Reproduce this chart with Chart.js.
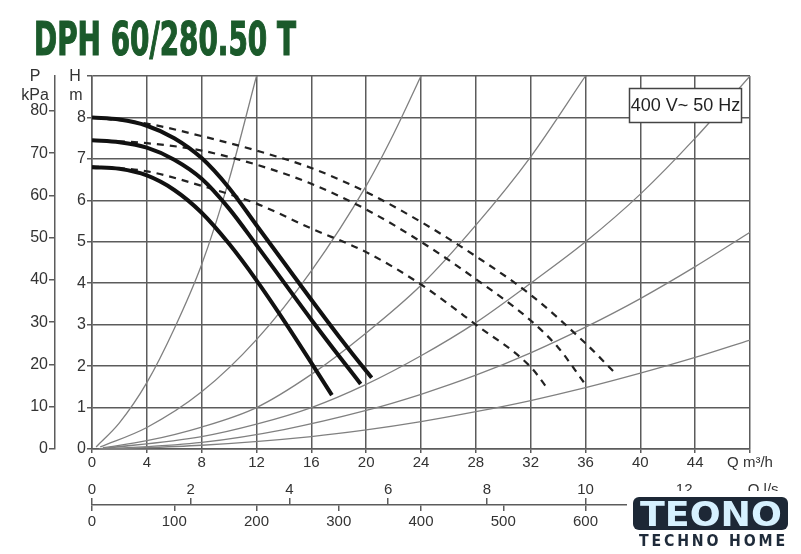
<!DOCTYPE html>
<html><head><meta charset="utf-8">
<script src="https://cdn.jsdelivr.net/npm/chart.js@4/dist/chart.umd.min.js"></script>
<style>html,body{margin:0;padding:0;background:#fff;}#wrap{position:relative;width:801px;height:554px;}canvas{display:block;}</style>
</head><body><div id="wrap"><canvas id="c" width="801" height="554"></canvas></div>
<script>
// ---- data (Q in m3/h, H in m) ----
const titleText = 'DPH 60/280.50 T';
const supplyText = '400 V~ 50 Hz';
const xTicksLabelEnd = 'Q m³/h';
const lsLabelEnd = 'Q l/s';

// thick pump curves
const solidHighQ = [0, 2, 4, 6, 8, 10, 12, 14, 16, 18, 20, 20.4];
const solidHighH = [8.0, 7.95, 7.8, 7.5, 7.02, 6.3, 5.4, 4.5, 3.6, 2.72, 1.88, 1.72];
const solidMidQ = [0, 2, 4, 6, 8, 10, 12, 14, 16, 18, 19.6];
const solidMidH = [7.45, 7.4, 7.27, 6.98, 6.52, 5.8, 4.92, 4.02, 3.12, 2.25, 1.57];
const solidLowQ = [0, 2, 4, 6, 8, 10, 12, 14, 16, 17.5];
const solidLowH = [6.8, 6.76, 6.6, 6.25, 5.7, 4.95, 4.07, 3.1, 2.08, 1.3];

// dashed curves
const dashHighQ = [0, 4, 8, 12, 16, 20, 24, 28, 32, 36, 38.2];
const dashHighH = [8.0, 7.85, 7.55, 7.2, 6.78, 6.2, 5.48, 4.65, 3.72, 2.55, 1.82];
const dashMidQ = [0, 4, 8, 12, 16, 20, 24, 28, 32, 34, 35.9];
const dashMidH = [7.45, 7.38, 7.2, 6.86, 6.4, 5.78, 5.0, 4.1, 3.1, 2.45, 1.6];
const dashLowQ = [0, 4, 8, 12, 16, 20, 24, 28, 32, 33.2];
const dashLowH = [6.82, 6.7, 6.35, 5.92, 5.32, 4.75, 3.97, 3.0, 1.98, 1.47];

// thin system curves
const sysAQ = [0.3, 2, 4, 6, 8, 10, 12];
const sysAH = [0.05, 0.63, 1.6, 2.9, 4.45, 6.5, 9.0];
const sysBQ = [0.6, 4, 8, 12, 16, 20, 22, 24];
const sysBH = [0.05, 0.52, 1.38, 2.64, 4.3, 6.35, 7.6, 9.0];
const sysCQ = [0.8, 4, 8, 12, 16, 20, 24, 28, 32, 36];
const sysCH = [0.03, 0.2, 0.53, 1.0, 1.8, 2.8, 3.95, 5.4, 7.05, 9.0];
const sysDQ = [0.5, 8, 12, 16, 20, 24, 28, 32, 36, 40, 44, 48];
const sysDH = [0.0, 0.3, 0.6, 1.0, 1.56, 2.25, 3.05, 4.0, 5.0, 6.15, 7.5, 9.0];
const sysEQ = [1, 8, 14, 20, 24, 28, 32, 36, 40, 44, 48];
const sysEH = [0.0, 0.16, 0.47, 0.93, 1.32, 1.78, 2.32, 2.94, 3.63, 4.4, 5.23];
const sysFQ = [1.3, 8, 16, 20, 24, 28, 32, 36, 40, 44, 48];
const sysFH = [0.0, 0.09, 0.3, 0.46, 0.66, 0.9, 1.17, 1.48, 1.83, 2.21, 2.63];

// axis ranges / tick steps
const qMax = 48, qStep = 4;
const hMax = 9, hStep = 1;
const kPaPerM = 9.80665, pStep = 10, pLastLabel = 80;
const lsPerM3h = 1 / 3.6, lsStep = 2, lsLastNum = 12, lsUnitAt = 13.6;
const lminPerM3h = 1000 / 60, lminStep = 100;

// ---- build ----
const zip = (qs, hs) => qs.map((q, i) => ({x: q, y: hs[i]}));
const FONT = '"Liberation Sans", Arial, sans-serif';
const GRID = '#5c5c5c';
const TXT = '#333';
const SYS = '#808080';

function line(data, color, width, dash, order) {
  return {data, borderColor: color, borderWidth: width, borderDash: dash || [],
    pointRadius: 0, fill: false, cubicInterpolationMode: 'monotone', order,
    borderCapStyle: 'butt', xAxisID: 'x', yAxisID: 'y'};
}
const datasets = [
  line(zip(solidHighQ, solidHighH), '#111', 4, null, 0),
  line(zip(solidMidQ, solidMidH), '#111', 4, null, 0),
  line(zip(solidLowQ, solidLowH), '#111', 4, null, 0),
  line(zip(dashHighQ, dashHighH), '#222', 2.2, [7, 6], 1),
  line(zip(dashMidQ, dashMidH), '#222', 2.2, [7, 6], 1),
  line(zip(dashLowQ, dashLowH), '#222', 2.2, [7, 6], 1),
  line(zip(sysAQ, sysAH), SYS, 1.3, null, 2),
  line(zip(sysBQ, sysBH), SYS, 1.3, null, 2),
  line(zip(sysCQ, sysCH), SYS, 1.3, null, 2),
  line(zip(sysDQ, sysDH), SYS, 1.3, null, 2),
  line(zip(sysEQ, sysEH), SYS, 1.3, null, 2),
  line(zip(sysFQ, sysFH), SYS, 1.3, null, 2),
];

const tickFont = {size: 15, family: FONT};
const yTickFont = {size: 16, family: FONT};

const decor = {
  id: 'decor',
  beforeDraw(chart) {
    const ctx = chart.ctx;
    ctx.save(); ctx.fillStyle = '#fff'; ctx.fillRect(0, 0, chart.width, chart.height); ctx.restore();
  },
  afterDraw(chart) {
    const ctx = chart.ctx;
    // title
    ctx.save();
    ctx.font = 'bold 46px "Liberation Sans Narrow", "DejaVu Sans Condensed", "Liberation Sans", sans-serif';
    const tw = ctx.measureText(titleText).width;
    ctx.translate(34, 55); ctx.scale(262 / tw, 1);
    ctx.fillStyle = '#1b5a2b'; ctx.strokeStyle = '#1b5a2b'; ctx.lineWidth = 1.2;
    ctx.textBaseline = 'alphabetic'; ctx.textAlign = 'left';
    ctx.fillText(titleText, 0, 0); ctx.strokeText(titleText, 0, 0);
    ctx.restore();
    // axis unit labels
    ctx.save();
    ctx.fillStyle = TXT; ctx.font = '16px ' + FONT; ctx.textAlign = 'center'; ctx.textBaseline = 'middle';
    ctx.fillText('P', 35, 77);
    ctx.fillText('kPa', 35, 96);
    ctx.fillText('H', 75, 77);
    ctx.fillText('m', 76, 96);
    ctx.restore();
    // supply box
    ctx.save();
    ctx.fillStyle = '#fff'; ctx.strokeStyle = '#444'; ctx.lineWidth = 1.5;
    ctx.fillRect(629, 88, 113, 35); ctx.strokeRect(629.5, 88.5, 112, 34);
    ctx.fillStyle = '#222'; ctx.font = '18px ' + FONT; ctx.textAlign = 'center'; ctx.textBaseline = 'middle';
    ctx.fillText(supplyText, 685.5, 106);
    ctx.restore();
    // logo
    ctx.save();
    ctx.fillStyle = '#fff'; ctx.fillRect(627, 491, 174, 63);
    ctx.fillStyle = '#1d2836';
    ctx.beginPath(); ctx.roundRect(633, 497, 155, 33, 6); ctx.fill();
    ctx.font = 'bold 34px "DejaVu Sans", sans-serif';
    const lw = ctx.measureText('TEONO').width;
    const g = ctx.createLinearGradient(0, 500, 0, 527);
    g.addColorStop(0, '#d6f1ff'); g.addColorStop(0.45, '#6fbde6'); g.addColorStop(0.55, '#b9c3cc'); g.addColorStop(1, '#e6eaee');
    ctx.fillStyle = g; ctx.textBaseline = 'alphabetic';
    ctx.translate(640, 526); ctx.scale(142 / lw, 1); ctx.fillText('TEONO', 0, 0);
    ctx.restore();
    ctx.save();
    ctx.font = 'bold 15px "DejaVu Sans", sans-serif';
    ctx.letterSpacing = '3px';
    const t2 = 'TECHNO HOME';
    const lw2 = ctx.measureText(t2).width;
    ctx.fillStyle = '#1f2b3a'; ctx.textBaseline = 'alphabetic';
    ctx.translate(639, 546); ctx.scale(149 / lw2, 1); ctx.fillText(t2, 0, 0);
    ctx.restore();
  }
};

new Chart(document.getElementById('c'), {
  type: 'line',
  data: {datasets},
  plugins: [decor],
  options: {
    responsive: false, devicePixelRatio: 1, animation: false,
    layout: {padding: {top: 76, right: 51, left: 0, bottom: 0}},
    plugins: {legend: {display: false}, tooltip: {enabled: false}, title: {display: false}},
    scales: {
      x: {type: 'linear', position: 'bottom', min: 0, max: qMax, weight: 0,
        ticks: {stepSize: qStep, autoSkip: false, maxRotation: 0, padding: 1, color: TXT, font: tickFont,
          callback: v => v === qMax ? xTicksLabelEnd : String(v)},
        grid: {color: GRID, lineWidth: 1.5, tickLength: 4},
        border: {color: GRID, width: 1.5},
        afterFit: s => { s.height = 56; }},
      xls: {type: 'linear', position: 'bottom', min: 0, max: qMax * lsPerM3h, weight: 1,
        ticks: {stepSize: lsStep, includeBounds: false, autoSkip: false, maxRotation: 0, mirror: true, padding: 6, color: TXT, font: tickFont,
          callback: v => v === lsUnitAt ? lsLabelEnd : String(Math.round(v))},
        afterBuildTicks: s => {
          s.ticks = s.ticks.filter(t => t.value <= lsLastNum + 1e-6).concat([{value: lsUnitAt}]);
        },
        grid: {drawOnChartArea: false, color: GRID, lineWidth: 1.5, tickLength: -7},
        border: {display: false},
        afterFit: s => { s.height = 0; }},
      xlmin: {type: 'linear', position: 'bottom', min: 0, max: qMax * lminPerM3h, weight: 2,
        ticks: {stepSize: lminStep, autoSkip: false, maxRotation: 0, padding: 2, color: TXT, font: tickFont},
        grid: {drawOnChartArea: false, color: GRID, lineWidth: 1.5, tickLength: 6},
        border: {color: GRID, width: 1.5},
        afterFit: s => { s.height = 49; }},
      y: {type: 'linear', position: 'left', min: 0, max: hMax, weight: 0,
        ticks: {stepSize: hStep, padding: 1, color: TXT, font: yTickFont, callback: v => v === hMax ? '' : String(v)},
        grid: {color: GRID, lineWidth: 1.5, tickLength: 5},
        border: {color: GRID, width: 1.5},
        afterFit: s => { s.width = 37; }},
      yP: {type: 'linear', position: 'left', min: 0, max: hMax * kPaPerM, weight: 1,
        ticks: {stepSize: pStep, includeBounds: false, padding: 1, color: TXT, font: yTickFont,
          callback: v => (v <= pLastLabel ? String(v) : '')},
        grid: {drawOnChartArea: false, color: GRID, lineWidth: 1.5, tickLength: 6},
        border: {color: GRID, width: 1.5},
        afterFit: s => { s.width = 55; }}
    }
  }
});
</script></body></html>
